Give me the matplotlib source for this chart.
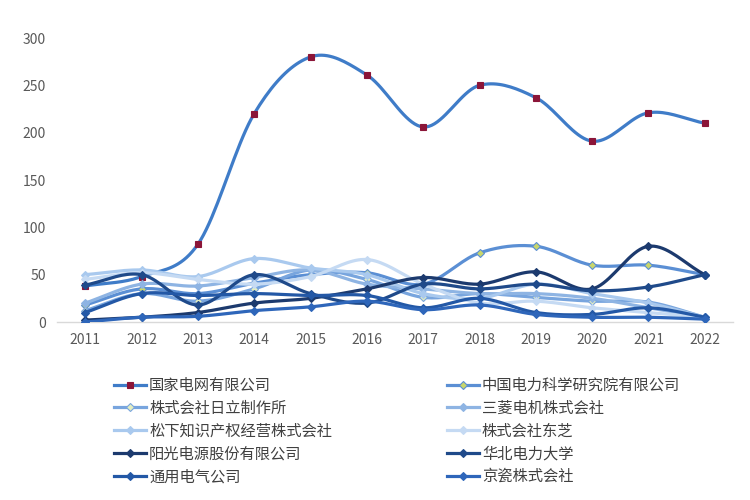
import numpy as np
import matplotlib
matplotlib.use("Agg")
import matplotlib.pyplot as plt

plt.rcParams['font.family'] = ['Noto Sans CJK SC', 'DejaVu Sans']

years = [2011, 2012, 2013, 2014, 2015, 2016, 2017, 2018, 2019, 2020, 2021, 2022]
names = ["国家电网有限公司", "中国电力科学研究院有限公司", "株式会社日立制作所", "三菱电机株式会社",
         "松下知识产权经营株式会社", "株式会社东芝", "阳光电源股份有限公司", "华北电力大学",
         "通用电气公司", "京瓷株式会社"]

sgcc = [38, 48, 82, 220, 280, 261, 206, 250, 237, 191, 221, 210]
cepri = [18, 35, 30, 41, 50, 52, 40, 73, 80, 60, 60, 50]
hitachi = [12, 30, 22, 35, 55, 45, 26, 30, 26, 22, 21, 5]
mitsubishi = [20, 40, 38, 47, 55, 40, 35, 30, 30, 25, 15, 5]
panasonic = [50, 55, 48, 67, 57, 50, 30, 25, 40, 30, 20, 5]
toshiba = [45, 52, 45, 40, 48, 66, 40, 20, 22, 15, 10, 5]
sungrow = [2, 5, 10, 20, 25, 35, 47, 40, 53, 35, 80, 50]
ncepu = [39, 50, 18, 50, 30, 20, 40, 35, 40, 33, 37, 50]
ge = [10, 30, 28, 30, 28, 28, 15, 25, 10, 8, 15, 5]
kyocera = [0, 5, 6, 12, 16, 22, 13, 18, 8, 5, 5, 3]

series = [sgcc, cepri, hitachi, mitsubishi, panasonic, toshiba, sungrow, ncepu, ge, kyocera]
line_colors = ["#3F7CC8", "#5B8FD4", "#78A5DE", "#8EB4E3", "#A9C9EE", "#C5DAF3",
               "#1C3A6E", "#1F4A8A", "#2358A6", "#2E66BA"]
markers = ["s", "D", "D", "D", "D", "D", "D", "D", "D", "D"]
marker_face = ["#8B1538", "#C9D66B", "#E4EEC0", "#8EB4E3", "#A9C9EE", "#C5DAF3",
               "#1C3A6E", "#1F4A8A", "#2358A6", "#2E66BA"]
marker_size = [5, 4, 4, 4, 4, 4, 4.5, 4.5, 4.5, 4.5]


def smooth(x, y, n=20):
    x = np.asarray(x, float)
    y = np.asarray(y, float)
    px = np.concatenate([[2 * x[0] - x[1]], x, [2 * x[-1] - x[-2]]])
    py = np.concatenate([[2 * y[0] - y[1]], y, [2 * y[-1] - y[-2]]])
    xs, ys = [], []
    t = np.linspace(0, 1, n, endpoint=False)
    for i in range(1, len(px) - 2):
        p0, p1, p2, p3 = py[i - 1], py[i], py[i + 1], py[i + 2]
        q0, q1, q2, q3 = px[i - 1], px[i], px[i + 1], px[i + 2]
        for arr, a0, a1, a2, a3 in ((xs, q0, q1, q2, q3), (ys, p0, p1, p2, p3)):
            arr.extend(0.5 * ((2 * a1) + (-a0 + a2) * t + (2 * a0 - 5 * a1 + 4 * a2 - a3) * t ** 2
                              + (-a0 + 3 * a1 - 3 * a2 + a3) * t ** 3))
    xs.append(x[-1])
    ys.append(y[-1])
    return np.array(xs), np.array(ys)


fig = plt.figure(figsize=(7.5, 5), dpi=100)
ax = fig.add_axes([57 / 750, 1 - 322 / 500, (733 - 57) / 750, (322 - 38) / 500])

xi = np.arange(len(years))
handles = []
for k, (vals, name) in enumerate(zip(series, names)):
    sx, sy = smooth(xi, vals)
    ax.plot(sx, sy, color=line_colors[k], lw=2.3, solid_capstyle='round', zorder=2 + k)
    ax.plot(xi, vals, linestyle='none', marker=markers[k], ms=marker_size[k],
            mfc=marker_face[k], mec=line_colors[k] if k > 0 else marker_face[k], mew=0.8, zorder=2 + k)
    h, = ax.plot([], [], color=line_colors[k], lw=2.3, marker=markers[k], ms=marker_size[k],
                 mfc=marker_face[k], mec=line_colors[k] if k > 0 else marker_face[k], mew=0.8)
    h.set_label(name)
    handles.append(h)

ax.set_xlim(-0.5, len(years) - 0.5)
ax.set_ylim(0, 300)
ax.set_yticks([0, 50, 100, 150, 200, 250, 300])
ax.set_xticks(xi)
ax.set_xticklabels([str(y) for y in years])
for s in ["top", "right", "left"]:
    ax.spines[s].set_visible(False)
ax.spines["bottom"].set_color("#D9D9D9")
ax.spines["bottom"].set_linewidth(1)
ax.tick_params(axis='both', length=0, colors="#595959", labelsize=10)
ax.tick_params(axis='y', pad=8)
ax.tick_params(axis='x', pad=8)

# order legend row-wise with two columns: left column = even indices, right = odd
order = [0, 2, 4, 6, 8, 1, 3, 5, 7, 9]
leg = fig.legend([handles[i] for i in order], [names[i] for i in order], ncol=2,
                 loc='upper left', bbox_to_anchor=(114 / 750, 1 - 377 / 500),
                 frameon=False, fontsize=11, handlelength=2.1, handletextpad=0.2,
                 columnspacing=7.5, labelspacing=0.38, labelcolor="#404040",
                 borderaxespad=0, borderpad=0)

fig.savefig("out.png", dpi=100, facecolor="white")
